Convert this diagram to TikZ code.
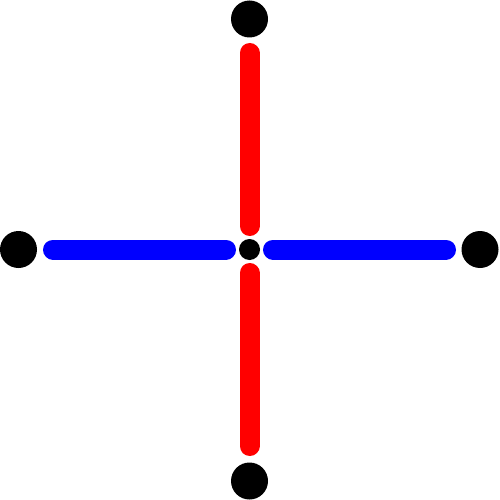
\documentclass[tikz,border=0pt]{standalone}
\begin{document}
\begin{tikzpicture}[x=1pt,y=-1pt,
  dotbig/.style={circle,fill=black,inner sep=0pt,minimum size=37pt},
  dotsmall/.style={circle,fill=black,inner sep=0pt,minimum size=21pt},
  redbar/.style={draw=red,line width=20pt,line cap=round},
  bluebar/.style={draw=blue,line width=20pt,line cap=round}]
\useasboundingbox (0,0) rectangle (499,500);
\node[dotsmall] (c) at (249.5,249.5) {};
\node[dotbig] (t) at (249.5,19) {};
\node[dotbig] (b) at (249.5,481) {};
\node[dotbig] (l) at (18.5,249.5) {};
\node[dotbig] (r) at (480,249.5) {};
\coordinate (t1) at (249.5,53);
\coordinate (t2) at (249.5,226);
\coordinate (b1) at (249.5,273);
\coordinate (b2) at (249.5,446);
\coordinate (l1) at (53,249.5);
\coordinate (l2) at (226,249.5);
\coordinate (r1) at (273,249.5);
\coordinate (r2) at (446,249.5);
\draw[redbar] (t1) -- (t2);
\draw[redbar] (b1) -- (b2);
\draw[bluebar] (l1) -- (l2);
\draw[bluebar] (r1) -- (r2);
\end{tikzpicture}
\end{document}
